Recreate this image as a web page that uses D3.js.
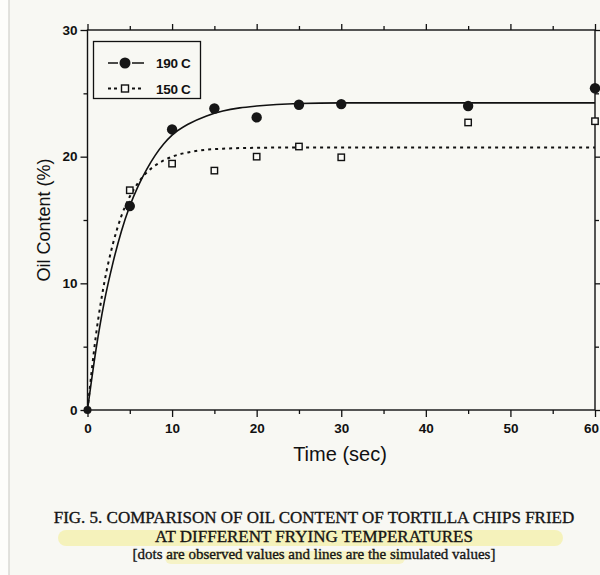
<!DOCTYPE html>
<html>
<head>
<meta charset="utf-8">
<script src="https://cdn.jsdelivr.net/npm/d3@7"></script>
<style>
  html, body { margin: 0; padding: 0; background: #f8f8f3; }
  svg { display: block; }
  .axis path, .axis line { stroke: #111; stroke-width: 1.3; }
  .axis text { font-family: "Liberation Sans", Arial, sans-serif; font-weight: bold; font-size: 13.5px; fill: #111; }
</style>
</head>
<body>
<div id="chart"></div>
<script>
// ||================================||
// || DATA                           ||
// ||================================||

var times = [0, 5, 10, 15, 20, 25, 30, 45, 60];
var obs190 = [0, 16.1, 22.15, 23.8, 23.1, 24.1, 24.15, 24.0, 25.4];
var obs150 = [0, 17.35, 19.45, 18.9, 20.0, 20.8, 19.95, 22.7, 22.8];

var simTimes = [0, 1, 2, 3, 4, 5, 6, 7, 8, 9, 10, 12, 14, 16, 18, 20, 25, 30, 40, 50, 60];
var sim190 = [0, 4.75, 8.6, 11.6, 14.1, 16.1, 17.7, 19.0, 20.1, 21.0, 21.7, 22.6, 23.2, 23.6, 23.85, 24.0, 24.2, 24.25, 24.25, 24.25, 24.25];
var sim150 = [0, 5.9, 10.1, 13.1, 15.3, 16.85, 17.95, 18.75, 19.3, 19.7, 20.0, 20.35, 20.55, 20.63, 20.68, 20.7, 20.73, 20.73, 20.73, 20.73, 20.73];

var xMajor = [0, 10, 20, 30, 40, 50, 60],
    xMinor = [5, 15, 25, 35, 45, 55],
    yMajor = [0, 10, 20, 30],
    yMinor = [5, 15, 25];

var legendLabels = ["190 C", "150 C"];
var captionLines = [
  "FIG. 5. COMPARISON OF OIL CONTENT OF TORTILLA CHIPS FRIED",
  "AT DIFFERENT FRYING TEMPERATURES",
  "[dots are observed values and lines are the simulated values]"
];

// ||================================||
// || SETUP                          ||
// ||================================||

var width = 600, height = 575;

var svg = d3.select("#chart").append("svg")
    .attr("width", width)
    .attr("height", height);

// scan edge on the left
svg.append("rect").attr("x", 0).attr("y", 0).attr("width", 9).attr("height", height).attr("fill", "#fdfdfb");
svg.append("line").attr("x1", 9).attr("x2", 9).attr("y1", 0).attr("y2", height)
    .attr("stroke", "#d8d8d4").attr("stroke-width", 1.5);

var x = d3.scaleLinear().domain([0, 60]).range([87.5, 595]);
var y = d3.scaleLinear().domain([0, 30]).range([410, 30]);

// ||================================||
// || AXES                           ||
// ||================================||

function addAxis(axis, tx, ty) {
  var g = svg.append("g").attr("class", "axis").attr("transform", "translate(" + tx + "," + ty + ")").call(axis);
  g.select(".domain").remove();
  return g;
}

var xAxisG = addAxis(d3.axisBottom(x).tickValues(xMajor).tickSize(7).tickPadding(6).tickFormat(d3.format("d")), 0, 410);
// last label sits against the page edge, like the scan
xAxisG.selectAll(".tick text").filter(function(d) { return d === 60; }).attr("dx", "-4");
addAxis(d3.axisBottom(x).tickValues(xMinor).tickSize(4).tickFormat(""), 0, 410);
addAxis(d3.axisTop(x).tickValues(xMajor).tickSize(6).tickFormat(""), 0, 30);
addAxis(d3.axisTop(x).tickValues(xMinor).tickSize(4).tickFormat(""), 0, 30);

addAxis(d3.axisLeft(y).tickValues(yMajor).tickSize(7).tickPadding(3).tickFormat(d3.format("d")), 87.5, 0);
addAxis(d3.axisLeft(y).tickValues(yMinor).tickSize(4).tickFormat(""), 87.5, 0);
addAxis(d3.axisRight(y).tickValues(yMajor).tickSize(6).tickFormat(""), 595, 0);
addAxis(d3.axisRight(y).tickValues(yMinor).tickSize(4).tickFormat(""), 595, 0);

// frame
svg.append("rect")
    .attr("x", x(0)).attr("y", y(30))
    .attr("width", x(60) - x(0)).attr("height", y(0) - y(30))
    .attr("fill", "none").attr("stroke", "#111").attr("stroke-width", 1.4);

svg.append("text")
    .attr("x", 340).attr("y", 461)
    .attr("text-anchor", "middle")
    .style("font-family", "'Liberation Sans Narrow', 'Liberation Sans', Arial, sans-serif")
    .style("font-size", "20px")
    .attr("fill", "#111")
    .text("Time (sec)");

svg.append("text")
    .attr("transform", "translate(50,220) rotate(-90)")
    .attr("text-anchor", "middle")
    .style("font-family", "'Liberation Sans', Arial, sans-serif")
    .style("font-size", "18px")
    .attr("fill", "#111")
    .text("Oil Content (%)");

// ||================================||
// || LINES + POINTS                 ||
// ||================================||

var line = d3.line()
    .x(function(d) { return x(d[0]); })
    .y(function(d) { return y(d[1]); })
    .curve(d3.curveMonotoneX);

svg.append("path")
    .datum(d3.zip(simTimes, sim190))
    .attr("d", line)
    .attr("fill", "none").attr("stroke", "#111").attr("stroke-width", 1.6);

svg.append("path")
    .datum(d3.zip(simTimes, sim150))
    .attr("d", line)
    .attr("fill", "none").attr("stroke", "#111").attr("stroke-width", 2)
    .attr("stroke-dasharray", "3,4");

svg.append("g").selectAll("rect")
    .data(d3.zip(times, obs150).slice(1))
    .enter().append("rect")
      .attr("x", function(d) { return x(d[0]) - 3.2; })
      .attr("y", function(d) { return y(d[1]) - 3.2; })
      .attr("width", 6.4).attr("height", 6.4)
      .attr("fill", "#fbfbf7").attr("stroke", "#111").attr("stroke-width", 1.4);

svg.append("g").selectAll("circle")
    .data(d3.zip(times, obs190))
    .enter().append("circle")
      .attr("cx", function(d) { return x(d[0]); })
      .attr("cy", function(d) { return y(d[1]); })
      .attr("r", function(d) { return d[0] === 0 ? 4 : 5.2; })
      .attr("fill", "#161616");

// ||================================||
// || LEGEND                         ||
// ||================================||

var legend = svg.append("g");
legend.append("rect")
    .attr("x", 93.5).attr("y", 41.5).attr("width", 107).attr("height", 57)
    .attr("fill", "none").attr("stroke", "#111").attr("stroke-width", 1.3);

var lg = legend.selectAll("g.item")
    .data(legendLabels)
    .enter().append("g")
      .attr("class", "item")
      .attr("transform", function(d, i) { return "translate(0," + (63 + i * 25.5) + ")"; });

// short segments on each side of the marker
lg.append("path")
    .attr("d", "M108,0H118M132,0H144")
    .attr("stroke", "#111")
    .attr("stroke-width", function(d, i) { return i === 0 ? 1.4 : 1.8; })
    .attr("stroke-dasharray", function(d, i) { return i === 0 ? null : "3,3"; });

lg.filter(function(d, i) { return i === 0; }).append("circle")
    .attr("cx", 125).attr("cy", 0).attr("r", 5.5).attr("fill", "#161616");

lg.filter(function(d, i) { return i === 1; }).append("rect")
    .attr("x", 121.5).attr("y", -3.5).attr("width", 7).attr("height", 7)
    .attr("fill", "#fbfbf7").attr("stroke", "#111").attr("stroke-width", 1.4);

lg.append("text")
    .attr("x", 156).attr("y", 5)
    .style("font-family", "'Liberation Sans', Arial, sans-serif")
    .style("font-weight", "bold").style("font-size", "13.5px")
    .style("letter-spacing", "-0.3px")
    .attr("fill", "#111")
    .text(function(d) { return d; });

// ||================================||
// || CAPTION                        ||
// ||================================||

// highlighter strokes
svg.append("rect").attr("x", 58).attr("y", 530).attr("width", 505).attr("height", 16).attr("rx", 8)
    .attr("fill", "#f4efa2").attr("opacity", 0.7);
svg.append("rect").attr("x", 165).attr("y", 551).attr("width", 240).attr("height", 13).attr("rx", 6)
    .attr("fill", "#f4efa2").attr("opacity", 0.55);

svg.selectAll("text.caption")
    .data(captionLines)
    .enter().append("text")
      .attr("class", "caption")
      .attr("x", 314)
      .attr("y", function(d, i) { return [523, 542, 559][i]; })
      .attr("text-anchor", "middle")
      .style("font-family", "'Liberation Serif', 'Times New Roman', serif")
      .style("font-size", function(d, i) { return i < 2 ? "17px" : "15px"; })
      .attr("fill", "#151515")
      .attr("stroke", "#151515").attr("stroke-width", 0.35)
      .text(function(d) { return d; });
</script>
</body>
</html>
